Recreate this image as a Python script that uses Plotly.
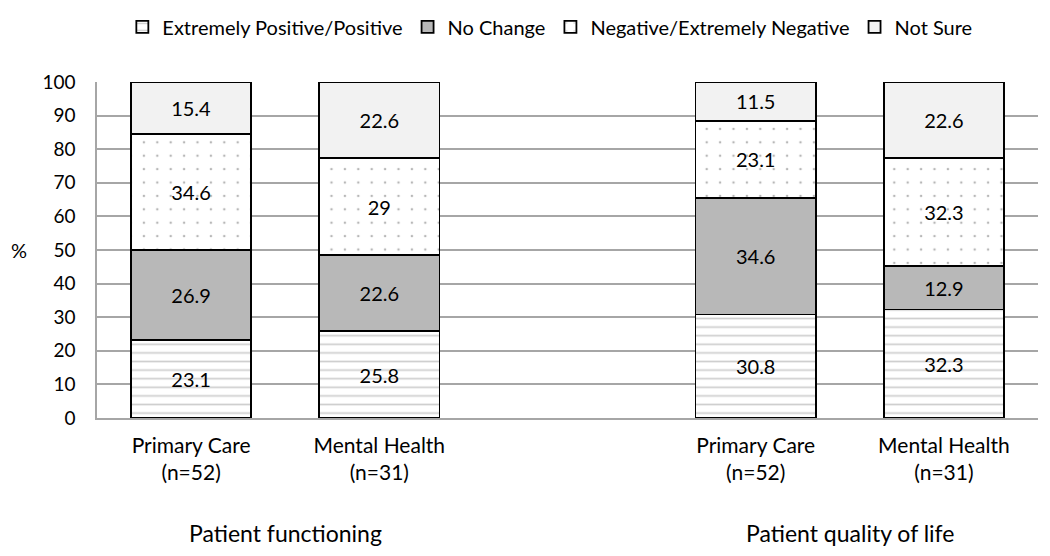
import plotly.graph_objects as go

# ---- data ----
categories = ["PF_PC", "PF_MH", "gap", "QL_PC", "QL_MH"]
tick_labels = ["Primary Care<br>(n=52)", "Mental Health<br>(n=31)", "",
               "Primary Care<br>(n=52)", "Mental Health<br>(n=31)"]
group_labels = ["Patient functioning", "Patient quality of life"]
group_centers = [0.5, 3.5]

series_names = ["Extremely Positive/Positive", "No Change",
                "Negative/Extremely Negative", "Not Sure"]
positive = [23.1, 25.8, None, 30.8, 32.3]
no_change = [26.9, 22.6, None, 34.6, 12.9]
negative = [34.6, 29, None, 23.1, 32.3]
not_sure = [15.4, 22.6, None, 11.5, 22.6]

FONT = "Lato"

def fmt(v):
    return "" if v is None else f"{v:g}"

styles = [
    dict(color="white", pattern=dict(shape="-", fgcolor="#a0a0a0", bgcolor="white",
                                     size=8.6, solidity=0.2, fillmode="overlay")),
    dict(color="#b8b8b8"),
    dict(color="white", pattern=dict(shape=".", fgcolor="#707070", bgcolor="white",
                                     size=13.4, solidity=0.028, fillmode="overlay")),
    dict(color="#f2f2f2"),
]

fig = go.Figure()
for name, vals, st in zip(series_names, [positive, no_change, negative, not_sure], styles):
    marker = dict(line=dict(color="black", width=1.8), **st)
    fig.add_trace(go.Bar(
        x=categories, y=vals, name=name, marker=marker,
        text=[fmt(v) for v in vals], textposition="inside",
        insidetextanchor="middle", textangle=0,
        textfont=dict(family=FONT, size=20, color="black"),
        hoverinfo="skip",
    ))

# page body has an 8px margin, so the figure is offset by (8, 8)
fig.update_layout(
    barmode="stack",
    bargap=0.36,
    width=1042, height=548,
    margin=dict(l=89, r=12, t=74, b=138, autoexpand=False),
    paper_bgcolor="white", plot_bgcolor="white",
    font=dict(family=FONT, size=20, color="black"),
    uniformtext=dict(minsize=20, mode="show"),
    legend=dict(orientation="h", x=0.52, xref="container", xanchor="center",
                y=1.222, yref="paper", yanchor="top",
                traceorder="normal", font=dict(family=FONT, size=20, color="black"),
                itemwidth=30, tracegroupgap=0, bgcolor="rgba(0,0,0,0)"),
    showlegend=True,
)

fig.update_yaxes(
    range=[0, 100], dtick=10, showgrid=True, gridcolor="#a6a6a6", gridwidth=1.5,
    showline=True, linecolor="#a6a6a6", linewidth=1.5,
    zeroline=False, ticks="", ticklabelstandoff=16,
    tickfont=dict(family=FONT, size=19),
)
fig.update_xaxes(
    type="category", categoryorder="array", categoryarray=categories,
    tickmode="array", tickvals=categories, ticktext=tick_labels,
    showline=True, linecolor="#a6a6a6", linewidth=1.5, ticks="",
    tickfont=dict(family=FONT, size=21), ticklabelstandoff=8,
)

fig.add_annotation(text="%", xref="paper", yref="paper", x=-0.093, y=0.5,
                   showarrow=False, font=dict(family=FONT, size=20), xanchor="left")
for lbl, cx in zip(group_labels, group_centers):
    fig.add_annotation(text=lbl, x=cx, xref="x", y=-0.342, yref="paper",
                       showarrow=False, yanchor="middle",
                       font=dict(family=FONT, size=23))

fig.write_html("out.html")
